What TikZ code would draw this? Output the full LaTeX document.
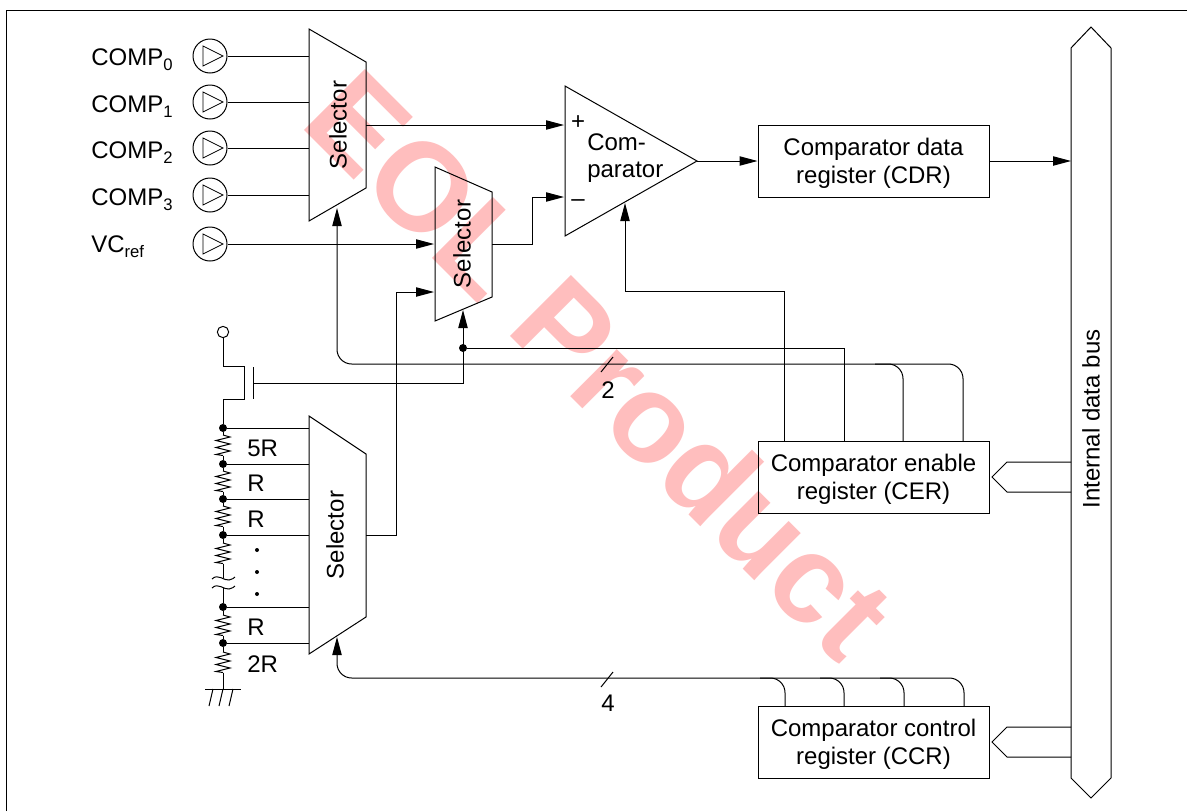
\documentclass[tikz,border=0pt]{standalone}
\usepackage{fontspec}
\setmainfont{Liberation Sans}
\usetikzlibrary{arrows.meta,calc}
\definecolor{wm}{RGB}{255,190,190}
\tikzset{
  wire/.style={line width=0.75pt,line join=miter},
  arr/.style={wire,-{Triangle[length=13.5pt,width=7pt]}},
  rwire/.style={wire,rounded corners=11pt},
  rarr/.style={arr,rounded corners=11pt},
  blk/.style={draw,line width=0.75pt},
  lab/.style={font=\fontsize{18}{20.25}\selectfont,align=center,inner sep=0pt},
  llab/.style={font=\fontsize{18}{20.25}\selectfont,inner sep=0pt,anchor=base west},
  dot/.style={circle,fill=black,inner sep=0pt,minimum size=6pt},
  sdot/.style={circle,fill=black,inner sep=0pt,minimum size=3pt},
  box/.style={draw,line width=0.75pt,inner sep=0pt,font=\fontsize{18}{20.75}\selectfont,align=center,minimum width=173.25pt,minimum height=54pt},
  buf/.style={draw,circle,line width=0.75pt,minimum size=25.5pt,inner sep=0pt},
  tri/.style={line width=0.6pt,line join=miter},
}
\newcommand{\mysub}[1]{\raisebox{-4pt}{\fontsize{12.5}{12.5}\selectfont #1}}
\newcommand{\dn}{\rule{0pt}{16.5pt}}
\newcommand{\inbuf}[2]{%
  \node[buf] (#1) at (210,#2) {};
  \draw[tri] ($(#1.center)+(-7,-10)$) -- ($(#1.center)+(13,0)$) -- ($(#1.center)+(-7,10)$) -- cycle;
}
\newcommand{\zigzag}[1]{%
  \draw[wire] (223,#1) -- ++(7,2) -- ++(-14,3.5) -- ++(14,3.5) -- ++(-14,3.5) -- ++(14,3.5) -- ++(-14,3.5) -- ++(7,1);
}
\begin{document}
\begin{tikzpicture}[x=0.75pt,y=-0.75pt]
\useasboundingbox (0,0) rectangle (1187,811);
\fill[white] (0,0) rectangle (1187,811);
\draw[line width=1pt] (6.5,811) -- (6.5,10.5) -- (1187,10.5);
% watermark
\node[rotate=-45,anchor=base west,text=wm,font=\fontsize{94}{94}\selectfont\bfseries,inner sep=0pt] (wmark) at (298,124) {EOL Product};
% selectors
\draw[blk] (309,29) -- (366,62) -- (366,188) -- (309,221) -- cycle;
\node[lab,rotate=90] (s1) at (338,125) {Selector};
\draw[blk] (435,167) -- (492,192) -- (492,297) -- (435,321) -- cycle;
\node[lab,rotate=90] (s2) at (462,244) {Selector};
\draw[blk] (309,416) -- (366,454) -- (366,617) -- (309,654) -- cycle;
\node[lab,rotate=90] (s3) at (335,535) {Selector};
\coordinate (s1i0) at (309,56);
\coordinate (s1i1) at (309,102);
\coordinate (s1i2) at (309,148);
\coordinate (s1i3) at (309,195);
\coordinate (s1o) at (366,125);
\coordinate (s1c) at (337,208);
\coordinate (s2i0) at (434,244);
\coordinate (s2i1) at (434,292);
\coordinate (s2o) at (492,244);
\coordinate (s2c) at (463,310);
\coordinate (s3o) at (366,535);
\coordinate (s3c) at (337,637);
% comparator
\draw[blk] (565,86) -- (697,161) -- (565,236) -- cycle;
\node[lab,anchor=base west] (cmp1) at (587,150) {Com-};
\node[lab,anchor=base west] (cmp2) at (587,177) {parator};
\node[lab] (plus) at (578,123) {+};
\node[lab] (minus) at (578,203) {–};
\coordinate (cp) at (564,125);
\coordinate (cm) at (564,197);
\coordinate (cc) at (625,203);
\coordinate (co) at (697,161);
% registers
\node[box] (cdr) at (873.5,161) {\dn Comparator data\\register (CDR)};
\node[box] (cer) at (873.5,477) {\dn Comparator enable\\register (CER)};
\node[box] (ccr) at (873.5,742) {\dn Comparator control\\register (CCR)};
% internal bus
\draw[blk] (1091,27) -- (1111,48) -- (1111,778) -- (1091,798) -- (1071,778) -- (1071,48) -- cycle;
\node[lab,rotate=90] (ibus) at (1091,419) {Internal data bus};
\coordinate (bd) at (1071,161);
\coordinate (be1) at (1071,462);
\coordinate (be2) at (1071,492);
\coordinate (bc1) at (1071,727);
\coordinate (bc2) at (1071,757);
\draw[wire] (be1) -- (1007,462) -- (992,477) -- (1007,492) -- (be2);
\draw[wire] (bc1) -- (1007,727) -- (992,742) -- (1007,757) -- (bc2);
% input labels
\node[llab] (l0) at (91,65) {COMP\mysub{0}};
\node[llab] (l1) at (91,112) {COMP\mysub{1}};
\node[llab] (l2) at (91,158) {COMP\mysub{2}};
\node[llab] (l3) at (91,205) {COMP\mysub{3}};
\node[llab] (l4) at (91,252) {VC\raisebox{-4pt}{\fontsize{12.5}{12.5}\selectfont ref}};
\inbuf{b0}{56}
\inbuf{b1}{102}
\inbuf{b2}{148}
\inbuf{b3}{195}
\inbuf{b4}{244}
\draw[wire] (b0) -- (s1i0);
\draw[wire] (b1) -- (s1i1);
\draw[wire] (b2) -- (s1i2);
\draw[wire] (b3) -- (s1i3);
\draw[arr] (b4) -- (s2i0);
% data paths
\draw[arr] (s1o) -- (cp);
\draw[arr] (s2o) -- (532,244) -- (532,197) -- (cm);
\draw[arr] (co) -- (cdr.west);
\draw[arr] (cdr.east) -- (bd);
\draw[arr] (s3o) -- (396,535) -- (396,292) -- (s2i1);
% control from CER
\coordinate (e1) at (784,441);
\coordinate (e2) at (844,441);
\coordinate (e3) at (903,441);
\coordinate (e4) at (963,441);
\node[dot] (j1) at (463,348) {};
\draw[arr] (e1) -- (784,291) -- (625,291) -- (cc);
\draw[wire] (e2) -- (844,348) -- (j1);
\draw[arr] (254,383) -- (463,383) -- (s2c);
\draw[rarr] (e4) -- (963,364) -- (337,364) -- (s1c);
\draw[rwire] (e3) -- (903,364) -- (875,364);
\coordinate (t2a) at (601,372);
\coordinate (t2b) at (613,357);
\draw[wire] (t2a) -- (t2b);
\node[lab] (two) at (608,390) {2};
% control from CCR
\coordinate (f1) at (785,706);
\coordinate (f2) at (844,706);
\coordinate (f3) at (904,706);
\coordinate (f4) at (964,706);
\draw[rarr] (f4) -- (964,678) -- (337,678) -- (s3c);
\draw[rwire] (f1) -- (785,678) -- (760,678);
\draw[rwire] (f2) -- (844,678) -- (820,678);
\draw[rwire] (f3) -- (904,678) -- (880,678);
\coordinate (t4a) at (601,687);
\coordinate (t4b) at (613,672);
\draw[wire] (t4a) -- (t4b);
\node[lab] (four) at (608,703) {4};
% ladder
\node[draw,circle,line width=0.75pt,minimum size=8.5pt,inner sep=0pt] (vdd) at (223,332) {};
\node[dot] (n1) at (223,428) {};
\node[dot] (n2) at (223,464) {};
\node[dot] (n3) at (223,499) {};
\node[dot] (n4) at (223,535) {};
\node[dot] (n5) at (223,607) {};
\node[dot] (n6) at (223,643) {};
\draw[wire] (vdd) -- (223,366) -- (244,366) -- (244,399) -- (223,399) -- (n1);
\draw[wire] (253,367) -- (253,399);
\draw[wire] (n1) -- (309,428);
\draw[wire] (n2) -- (309,464);
\draw[wire] (n3) -- (309,499);
\draw[wire] (n4) -- (309,535);
\draw[wire] (n5) -- (309,607);
\draw[wire] (n6) -- (309,643);
\draw[wire] (n1) -- (223,435); \zigzag{435} \draw[wire] (223,456) -- (n2);
\draw[wire] (n2) -- (223,471); \zigzag{471} \draw[wire] (223,492) -- (n3);
\draw[wire] (n3) -- (223,506); \zigzag{506} \draw[wire] (223,527) -- (n4);
\draw[wire] (n4) -- (223,543); \zigzag{543} \draw[wire] (223,564) -- (223,578);
\draw[wire] (212,579) .. controls (218,573) and (224,581) .. (229,580) .. controls (232,579.5) and (234,578) .. (235,577);
\draw[wire] (212,588) .. controls (218,582) and (224,590) .. (229,589) .. controls (232,588.5) and (234,587) .. (235,586);
\draw[wire] (223,588) -- (n5);
\draw[wire] (n5) -- (223,615); \zigzag{615} \draw[wire] (223,636) -- (n6);
\draw[wire] (n6) -- (223,652); \zigzag{652} \draw[wire] (223,673) -- (223,689);
\draw[wire] (205,689) -- (241,689);
\draw[wire] (213,689) -- (209,706);
\draw[wire] (223,689) -- (219,706);
\draw[wire] (233,689) -- (229,706);
\node[llab] (r1) at (247,456) {5R};
\node[llab] (r2) at (247,491) {R};
\node[llab] (r3) at (247,527) {R};
\node[llab] (r4) at (247,635.5) {R};
\node[llab] (r5) at (247,672) {2R};
\node[sdot] (d1) at (257,550) {};
\node[sdot] (d2) at (257,572) {};
\node[sdot] (d3) at (257,594) {};
\end{tikzpicture}
\end{document}
